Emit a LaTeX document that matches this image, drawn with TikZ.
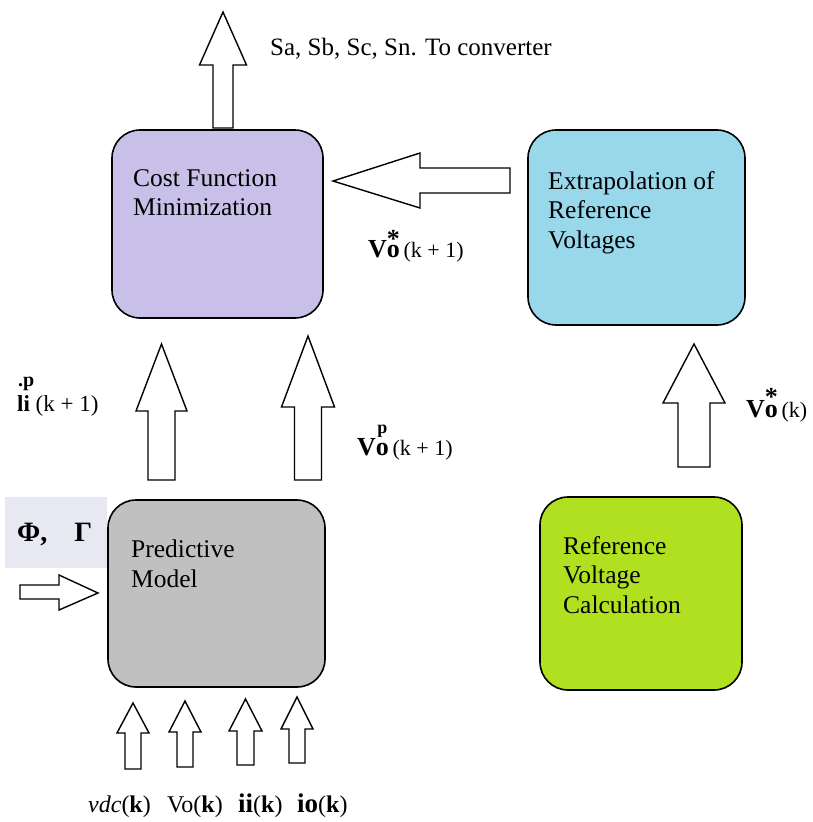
\documentclass[tikz,border=0pt]{standalone}
\usepackage{fontspec}
\setmainfont{Liberation Serif}
\definecolor{costc}{RGB}{200,192,232}
\definecolor{extc}{RGB}{152,216,234}
\definecolor{predc}{RGB}{192,192,192}
\definecolor{refc}{RGB}{176,224,32}
\definecolor{phibg}{RGB}{232,232,242}
\newcommand\uparw[6]{\draw[blk] ({#1-#5},#2) -- ({#1-#5},#4) -- ({#1-#6},#4) -- (#1,#3) -- ({#1+#6},#4) -- ({#1+#5},#4) -- ({#1+#5},#2) -- cycle;}
\newcommand\Vsym[3]{{\fontsize{26}{30}\selectfont\textbf{V}\ooalign{\textbf{o}\cr\hidewidth\raisebox{#2}{\fontsize{#3}{#3}\selectfont\textbf{#1}}\hidewidth\cr}}}
\begin{document}
\begin{tikzpicture}[x=1pt,y=-1pt,
  blk/.style={draw=black,fill=white,line width=1.4pt,line join=miter},
  box/.style={draw=black,line width=1.6pt,rounded corners=28pt,inner sep=0pt},
  lbl/.style={font=\fontsize{25.5}{29.5}\selectfont,align=left,anchor=north west,inner sep=0pt},
  sym/.style={font=\fontsize{22}{26}\selectfont,inner sep=0pt,anchor=base west}]
\useasboundingbox (0,0) rectangle (812,822);
\fill[white] (0,0) rectangle (812,822);
% boxes
\node[box,fill=costc,minimum width=211pt,minimum height=188pt] (cost) at (217.5,224) {};
\node[box,fill=extc,minimum width=217pt,minimum height=195pt] (extr) at (636.5,227.5) {};
\node[box,fill=predc,minimum width=217pt,minimum height=187pt] (pred) at (216.5,593.5) {};
\node[box,fill=refc,minimum width=202pt,minimum height=193pt] (refv) at (641,593.5) {};
% box texts
\node[lbl] (tcost) at (133,169) {Cost Function\\Minimization};
\node[lbl] (textr) at (548,171) {Extrapolation of\\Reference\\Voltages};
\node[lbl] (tpred) at (131,540) {Predictive\\Model};
\node[lbl] (trefv) at (563,536) {Reference\\Voltage\\Calculation};
% block arrows
\uparw{223}{128}{12}{65}{10}{23.5}
\uparw{161.5}{480}{344}{411}{13.5}{25.5}
\uparw{308}{480}{336}{407}{13.5}{26.5}
\uparw{694}{467}{344}{403}{16}{31}
\uparw{133}{769}{703}{733}{8}{16}
\uparw{185}{767}{701}{732}{8}{16}
\uparw{245.5}{765}{699}{731}{8.5}{16.5}
\uparw{297}{763}{697}{729}{8}{16}
\draw[blk] (510,168) -- (420,168) -- (420,153) -- (333,181) -- (420,208) -- (420,193) -- (510,193) -- cycle;
\draw[blk] (20,585) -- (59,585) -- (59,575) -- (98,593) -- (59,610) -- (59,599) -- (20,599) -- cycle;
% Phi Gamma
\fill[phibg] (5,497) rectangle (107,568);
\node[inner sep=0pt,anchor=base west,font=\fontsize{28}{30}\selectfont\bfseries] (phig) at (17,541) {Φ,\hspace{27pt}Γ};
% labels
\node[sym,font=\fontsize{25}{29}\selectfont] (out) at (270,55) {Sa, Sb, Sc, Sn. To converter};
\node[sym] (vref1) at (368,257) {\Vsym{*}{10pt}{26}\,(k + 1)};
\node[sym] (vpred) at (357,455) {\Vsym{p}{22pt}{18}\,(k + 1)};
\node[sym] (vrefk) at (746,417) {\Vsym{*}{12pt}{26}\,(k)};
\node[sym,font=\fontsize{20}{24}\selectfont\bfseries] (ipdot) at (18,386) {.p};
\node[sym,font=\fontsize{23}{26}\selectfont] (ipred) at (17,411) {\textbf{li} (k + 1)};
\node[sym,font=\fontsize{24}{28}\selectfont] (in1) at (88,812) {\textit{vdc}(\textbf{k})};
\node[sym,font=\fontsize{24}{28}\selectfont] (in2) at (167,812) {Vo(\textbf{k})};
\node[sym,font=\fontsize{24}{28}\selectfont] (in3) at (238,812) {{\fontsize{27}{28}\selectfont\textbf{ii}}(\textbf{k})};
\node[sym,font=\fontsize{24}{28}\selectfont] (in4) at (297,812) {{\fontsize{27}{28}\selectfont\textbf{io}}(\textbf{k})};
\end{tikzpicture}
\end{document}
